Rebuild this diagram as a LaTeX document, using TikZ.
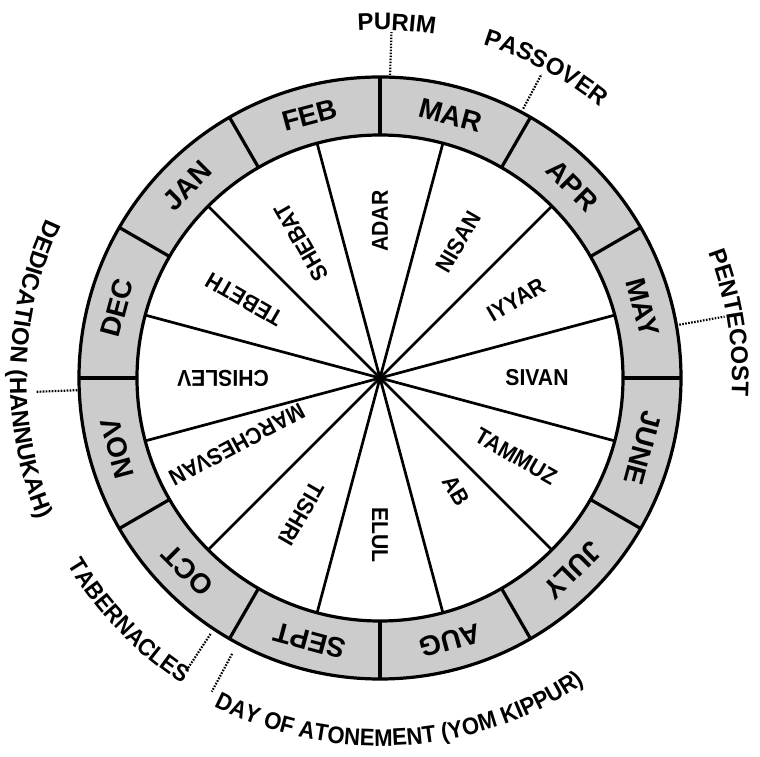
\documentclass[tikz,border=0pt]{standalone}
\usepackage{fontspec}
\setmainfont{Liberation Sans}[FakeStretch=0.92]
\newfontfamily\plainfam{Liberation Sans}
\usetikzlibrary{decorations.text}
\newcommand{\feastfont}{\plainfam\fontsize{24}{26}\selectfont\bfseries}
\newcommand{\feastnarrow}{\fontsize{24}{26}\selectfont\bfseries}
\begin{document}
\begin{tikzpicture}[x=1pt,y=1pt,
  rim/.style={line width=3.2pt},
  spoke/.style={line width=2.7pt},
  heb/.style={font=\fontsize{23}{25}\selectfont\bfseries, inner sep=0pt},
  greg/.style={font=\plainfam\fontsize{28}{30}\selectfont\bfseries, inner sep=0pt},
  leader/.style={line width=2.2pt, dash pattern=on 1.6pt off 1.4pt},
  feast/.style={decorate, decoration={text along path, text align=center, text={|\feastfont|#1}}},
  feastn/.style={decorate, decoration={text along path, text align=center, text={|\feastnarrow|#1}}},
]
\useasboundingbox (-380,-379) rectangle (380,378);
\coordinate (C) at (0,0);
% ring
\fill[black!20] (C) circle (301);
\fill[white] (C) circle (243);
% spokes of the Hebrew months
\foreach \a in {15,45,...,345} \draw[spoke] (C) -- (\a:243);
% dividers of the civil months
\foreach \a in {0,30,...,330} \draw[rim] (\a:243) -- (\a:301);
\draw[rim] (C) circle (301);
\draw[rim] (C) circle (243);
% Hebrew months
\foreach \nm/\a in {ADAR/90, NISAN/60, IYYAR/30, SIVAN/0, TAMMUZ/-30, ELUL/-90, TISHRI/-120, CHISLEV/180, TEBETH/150, SHEBAT/120}
  \node[heb, rotate=\a] (h\nm) at (\a:157) {\nm};
\node[heb, rotate=-60] (hAB) at (-56:136) {AB};
\node[heb, rotate=208] (hMARCHESVAN) at (205:158) {MARCHESVAN};
% civil months
\foreach \nm/\a in {MAR/75, APR/45, MAY/15, JUNE/-15, JULY/-45, AUG/-75, SEPT/-105, OCT/-135, NOV/-165, DEC/165, JAN/135, FEB/105}
  \node[greg, rotate=\a-90] (g\nm) at (\a:272) {\nm};
% feasts
\path[feast=PURIM] (127.3:348) arc[start angle=127.3, end angle=47.3, radius=348];
\path[feast=PASSOVER] (101.9:349) arc[start angle=101.9, end angle=21.9, radius=349];
\path[feast=PENTECOST] (49:352) arc[start angle=49, end angle=-31, radius=352];
\path[feast={DEDICATION (HANNUKAH)}] (130:370) arc[start angle=130, end angle=227, radius=370];
\path[feastn=TABERNACLES] (189:364) arc[start angle=189, end angle=259, radius=364];
\path[feastn={DAY OF ATONEMENT (YOM KIPPUR)}] (218.5:368) arc[start angle=218.5, end angle=328.5, radius=368];
% leaders
\foreach \n/\a/\ri/\ro in {pur/88.1/303/346, pas/62/305/344, pen/10.1/304/350, ded/182.3/303/345, tab/236.5/307/352, day/241.8/313/356}{
  \coordinate (\n1) at (\a:\ri);
  \coordinate (\n2) at (\a:\ro);
  \draw[leader] (\n1) -- (\n2);
}
\end{tikzpicture}
\end{document}
